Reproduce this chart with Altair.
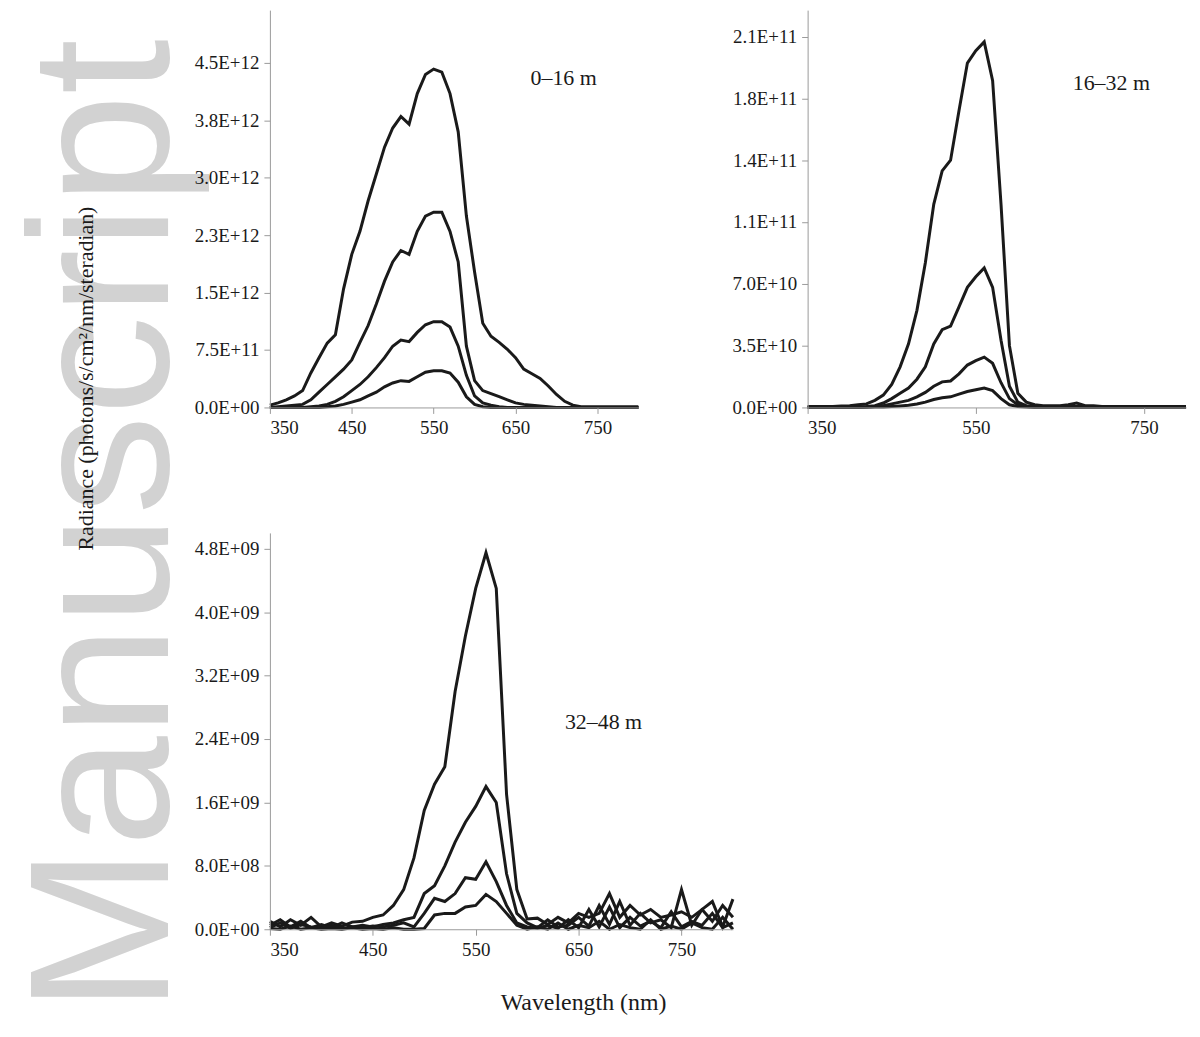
import altair as alt
import pandas as pd

FONT = "Liberation Serif"
INK = "#1a1a1a"

wavelengths = list(range(350, 801, 10))

# 0–16 m, units of 1E12
p1_a = [0.03, 0.06, 0.10, 0.15, 0.22, 0.45, 0.65, 0.84, 0.95, 1.55, 2.0, 2.3, 2.7, 3.05, 3.4, 3.65,
        3.80, 3.70, 4.1, 4.35, 4.42, 4.38, 4.1, 3.6, 2.5, 1.77, 1.1, 0.93, 0.85, 0.76, 0.65, 0.5,
        0.44, 0.38, 0.28, 0.17, 0.08, 0.03, 0.01, 0.01, 0.01, 0.01, 0.01, 0.01, 0.01, 0.01]
p1_b = [0.0, 0.01, 0.02, 0.03, 0.04, 0.1, 0.2, 0.3, 0.4, 0.5, 0.62, 0.85, 1.07, 1.35, 1.65, 1.9,
        2.05, 2.0, 2.3, 2.5, 2.55, 2.55, 2.3, 1.9, 0.8, 0.35, 0.22, 0.18, 0.14, 0.1, 0.06, 0.04,
        0.03, 0.02, 0.01, 0.0, 0.0, 0.0, 0.0, 0.0, 0.0, 0.0, 0.0, 0.0, 0.0, 0.0]
p1_c = [0.0, 0.0, 0.0, 0.0, 0.0, 0.01, 0.02, 0.04, 0.08, 0.14, 0.22, 0.3, 0.4, 0.52, 0.65, 0.8,
        0.88, 0.86, 0.98, 1.08, 1.12, 1.12, 1.05, 0.8, 0.42, 0.15, 0.06, 0.03, 0.01, 0.0, 0.0, 0.0,
        0.0, 0.0, 0.0, 0.0, 0.0, 0.0, 0.0, 0.0, 0.0, 0.0, 0.0, 0.0, 0.0, 0.0]
p1_d = [0.0, 0.0, 0.0, 0.0, 0.0, 0.0, 0.0, 0.01, 0.02, 0.04, 0.07, 0.1, 0.15, 0.2, 0.27, 0.32,
        0.35, 0.34, 0.4, 0.46, 0.48, 0.48, 0.45, 0.33, 0.14, 0.04, 0.01, 0.0, 0.0, 0.0, 0.0, 0.0,
        0.0, 0.0, 0.0, 0.0, 0.0, 0.0, 0.0, 0.0, 0.0, 0.0, 0.0, 0.0, 0.0, 0.0]

# 16–32 m, units of 1E10
p2_a = [0.05, 0.05, 0.05, 0.05, 0.08, 0.1, 0.15, 0.2, 0.4, 0.7, 1.3, 2.3, 3.6, 5.5, 8.2, 11.5,
        13.4, 14.0, 16.8, 19.5, 20.2, 20.7, 18.5, 11.5, 3.5, 0.8, 0.3, 0.15, 0.1, 0.1, 0.1, 0.15,
        0.25, 0.1, 0.1, 0.05, 0.05, 0.05, 0.05, 0.05, 0.05, 0.05, 0.05, 0.05, 0.05, 0.05]
p2_b = [0.02, 0.02, 0.02, 0.02, 0.02, 0.03, 0.04, 0.06, 0.1, 0.25, 0.5, 0.8, 1.1, 1.6, 2.3, 3.6,
        4.4, 4.6, 5.7, 6.8, 7.4, 7.9, 6.8, 3.8, 1.2, 0.3, 0.1, 0.05, 0.05, 0.05, 0.05, 0.05,
        0.05, 0.05, 0.05, 0.05, 0.05, 0.05, 0.05, 0.05, 0.05, 0.05, 0.05, 0.05, 0.05, 0.05]
p2_c = [0.0, 0.0, 0.0, 0.0, 0.0, 0.0, 0.01, 0.02, 0.05, 0.1, 0.2, 0.3, 0.4, 0.6, 0.85, 1.2,
        1.45, 1.5, 1.9, 2.4, 2.65, 2.85, 2.5, 1.4, 0.5, 0.15, 0.05, 0.02, 0.02, 0.02, 0.02, 0.02,
        0.02, 0.02, 0.02, 0.02, 0.02, 0.02, 0.02, 0.02, 0.02, 0.02, 0.02, 0.02, 0.02, 0.02]
p2_d = [0.0, 0.0, 0.0, 0.0, 0.0, 0.0, 0.0, 0.01, 0.02, 0.03, 0.05, 0.08, 0.12, 0.2, 0.3, 0.45,
        0.55, 0.6, 0.75, 0.9, 1.0, 1.1, 0.95, 0.5, 0.15, 0.05, 0.02, 0.01, 0.01, 0.01, 0.01, 0.01,
        0.01, 0.01, 0.01, 0.01, 0.01, 0.01, 0.01, 0.01, 0.01, 0.01, 0.01, 0.01, 0.01, 0.01]

# 32–48 m, units of 1E8
p3_a = [1.0, 0.3, 1.2, 0.5, 1.5, 0.3, 0.8, 0.4, 0.9, 1.0, 1.5, 1.8, 3.0, 5.0, 9.0, 15.0,
        18.3, 20.5, 30.0, 37.0, 43.0, 47.5, 43.0, 17.0, 5.0, 1.3, 1.4, 0.6, 1.5, 0.8, 2.0, 1.5,
        2.0, 4.5, 1.5, 3.0, 1.8, 2.5, 1.5, 1.8, 2.2, 1.5, 2.5, 1.0, 3.0, 1.5]
p3_b = [0.5, 1.2, 0.3, 1.0, 0.2, 0.6, 0.2, 0.8, 0.3, 0.5, 0.3, 0.6, 0.8, 1.2, 1.5, 4.5,
        5.5, 8.0, 11.0, 13.5, 15.5, 18.0, 16.0, 7.0, 2.0, 0.8, 0.2, 1.2, 0.3, 0.5, 1.5, 0.4,
        3.0, 0.6, 3.5, 0.5, 2.0, 0.8, 1.2, 0.2, 5.0, 0.5, 2.5, 3.5, 0.3, 3.8]
p3_c = [0.2, 0.8, 0.1, 0.6, 0.3, 0.1, 0.5, 0.1, 0.3, 0.2, 0.4, 0.3, 0.5, 0.8, 0.3, 2.0,
        3.9, 3.5, 4.5, 6.5, 6.3, 8.5, 6.0, 3.0, 0.8, 0.3, 0.1, 0.5, 0.1, 1.2, 0.2, 2.5,
        0.3, 2.8, 0.2, 1.5, 0.4, 1.0, 0.2, 2.2, 0.3, 1.0, 0.5, 2.0, 0.2, 0.8]
p3_d = [0.1, 0.0, 0.4, 0.0, 0.2, 0.0, 0.1, 0.0, 0.2, 0.0, 0.1, 0.0, 0.2, 0.0, 0.0, 0.1,
        1.8, 2.0, 2.0, 2.8, 3.0, 4.4, 3.5, 2.0, 0.5, 0.0, 0.3, 0.0, 0.8, 0.0, 0.5, 0.2,
        1.0, 0.0, 0.6, 0.2, 0.0, 1.2, 0.0, 0.4, 0.0, 0.8, 0.2, 0.0, 1.5, 0.0]

LABEL_EXPR = ("datum.value == 0 ? '0.0E+00' : replace(replace(replace("
              "format(datum.value, '.1e'), 'e+8', 'e+08'), 'e+9', 'e+09'), 'e', 'E')")


def long_df(series, scale):
    rows = []
    for name, vals in series.items():
        for wl, v in zip(wavelengths, vals):
            rows.append({"wl": wl, "value": v * scale, "series": name})
    return pd.DataFrame(rows)


def label(text, x, y, size=22, angle=0):
    return (
        alt.Chart(pd.DataFrame({"t": [text]}))
        .mark_text(font=FONT, fontSize=size, color=INK, angle=angle, align="center")
        .encode(x=alt.value(x), y=alt.value(y), text="t:N")
    )


def panel(df, ymax, yticks, xticks, width, height):
    return (
        alt.Chart(df)
        .mark_line(color=INK, strokeWidth=3, strokeJoin="miter")
        .encode(
            x=alt.X("wl:Q", scale=alt.Scale(domain=[350, 800], nice=False),
                    axis=alt.Axis(values=xticks, title=None, zindex=1)),
            y=alt.Y("value:Q", scale=alt.Scale(domain=[0, ymax], nice=False),
                    axis=alt.Axis(values=yticks, title=None, labelExpr=LABEL_EXPR, zindex=1)),
            detail="series:N",
        )
        .properties(width=width, height=height)
    )


df1 = long_df({"a": p1_a, "b": p1_b, "c": p1_c, "d": p1_d}, 1e12)
df2 = long_df({"a": p2_a, "b": p2_b, "c": p2_c, "d": p2_d}, 1e10)
df3 = long_df({"a": p3_a, "b": p3_b, "c": p3_c, "d": p3_d}, 1e8)

watermark = (
    alt.Chart(pd.DataFrame({"t": ["Manuscript"]}))
    .mark_text(font="Liberation Sans", fontSize=200, color="#d2d2d2", angle=270,
               align="center", baseline="alphabetic")
    .encode(x=alt.value(-102), y=alt.value(518), text="t:N")
)

p1 = alt.layer(
    watermark,
    panel(df1, 5.19e12, [0, 0.75e12, 1.5e12, 2.25e12, 3.0e12, 3.75e12, 4.5e12],
          [350, 450, 550, 650, 750], 370, 399),
    label("0–16 m", 295, 68),
)
p2 = alt.layer(
    panel(df2, 2.25e11, [0, 3.5e10, 7e10, 1.05e11, 1.4e11, 1.75e11, 2.1e11],
          [350, 550, 750], 380, 399),
    label("16–32 m", 305, 73),
)
p3 = alt.layer(
    panel(df3, 5.0e9, [0, 8e8, 1.6e9, 2.4e9, 3.2e9, 4.0e9, 4.8e9],
          [350, 450, 550, 650, 750], 465, 398),
    label("32–48 m", 335, 190),
    label("Radiance (photons/s/cm²/nm/steradian)", -185, -155, size=22, angle=270),
    label("Wavelength (nm)", 315, 472, size=24),
)

chart = (
    alt.concat(p1, p2, p3, columns=2, spacing={"row": 126, "column": 75},
               bounds="flush", align="none")
    .properties(padding=0)
    .configure_view(strokeWidth=0)
    .configure_axis(
        grid=False, labelFont=FONT, labelFontSize=19, labelColor=INK,
        domainColor="#9a9a9a", tickColor="#9a9a9a", tickSize=6, labelPadding=5,
    )
)

chart.save("out.html", embed_options={"renderer": "svg", "actions": False})
